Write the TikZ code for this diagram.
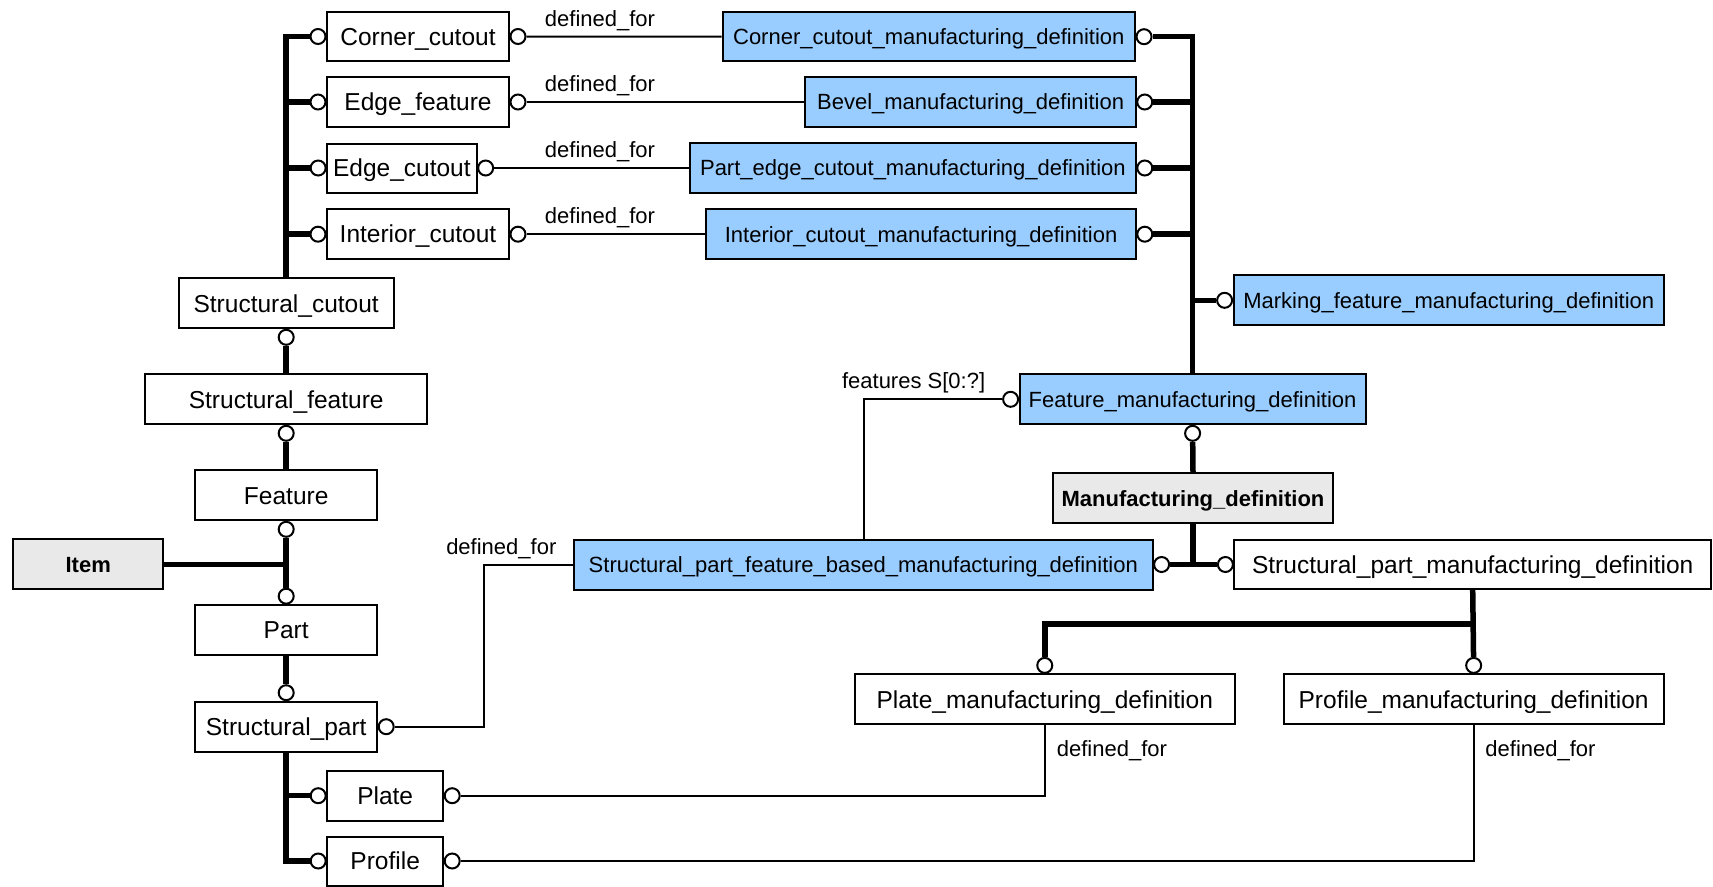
\documentclass[tikz,border=0pt]{standalone}
\usepackage{fontspec}
\setmainfont{Liberation Sans}
\usetikzlibrary{calc}
\definecolor{bluefill}{RGB}{153,204,255}
\definecolor{grayfill}{RGB}{233,233,233}
\tikzset{
  box/.style={draw, line width=2pt, inner sep=0pt, anchor=center, text depth=0pt},
  wbox/.style={box, fill=white, font=\fontsize{24.5}{29}\selectfont, text height=17.5pt},
  bbox/.style={box, fill=bluefill, font=\fontsize{22}{26}\selectfont, text height=15.75pt},
  gbox/.style={box, fill=grayfill, font=\fontsize{22}{26}\selectfont\bfseries, text height=15.75pt},
  ring/.style={draw, circle, fill=white, line width=2pt, minimum size=15pt, inner sep=0pt},
  subline/.style={line width=5.5pt, line join=miter},
  rel/.style={line width=2pt, line join=miter},
  lbl/.style={font=\fontsize{22}{26}\selectfont, inner sep=0pt, text height=15.75pt, text depth=0pt, anchor=center},
}
\begin{document}
\begin{tikzpicture}[x=1pt, y=-1pt]
\useasboundingbox (0,0) rectangle (1713,886);
\fill[white] (0,0) rectangle (1713,886);

% left column boxes
\node[wbox, minimum width=182pt, minimum height=49pt] (cc) at (418,36.5) {Corner\_cutout};
\node[wbox, minimum width=182pt, minimum height=50pt] (ef) at (418,102) {Edge\_feature};
\node[wbox, minimum width=149.5pt, minimum height=49pt] (ec) at (401.9,168) {Edge\_cutout};
\node[wbox, minimum width=182pt, minimum height=50pt] (ic) at (418,234.2) {Interior\_cutout};
\node[wbox, minimum width=215pt, minimum height=50pt] (sc) at (286.2,303.3) {Structural\_cutout};
\node[wbox, minimum width=281.6pt, minimum height=50pt] (sf) at (286.2,399.3) {Structural\_feature};
\node[wbox, minimum width=182pt, minimum height=50pt] (fe) at (286.2,495.3) {Feature};
\node[gbox, minimum width=149.6pt, minimum height=50pt] (item) at (88.2,564.3) {Item};
\node[wbox, minimum width=182pt, minimum height=50pt] (part) at (286.2,630.2) {Part};
\node[wbox, minimum width=182pt, minimum height=50pt] (sp) at (286.2,726.7) {Structural\_part};
\node[wbox, minimum width=116pt, minimum height=50pt] (plate) at (385.2,795.7) {Plate};
\node[wbox, minimum width=116pt, minimum height=49pt] (profile) at (385.2,861) {Profile};

% right boxes
\node[bbox, minimum width=412.5pt, minimum height=48.7pt] (ccmd) at (928.8,36.7) {Corner\_cutout\_manufacturing\_definition};
\node[bbox, minimum width=330.3pt, minimum height=50pt] (bmd) at (970.6,102) {Bevel\_manufacturing\_definition};
\node[bbox, minimum width=445.8pt, minimum height=49.4pt] (pecmd) at (912.9,168) {Part\_edge\_cutout\_manufacturing\_definition};
\node[bbox, minimum width=429.4pt, minimum height=49.7pt] (icmd) at (921.1,234.2) {Interior\_cutout\_manufacturing\_definition};
\node[bbox, minimum width=430.4pt, minimum height=50pt] (mfmd) at (1448.8,300.3) {Marking\_feature\_manufacturing\_definition};
\node[bbox, minimum width=346pt, minimum height=50pt] (fmd) at (1192.6,399.3) {Feature\_manufacturing\_definition};
\node[gbox, minimum width=280pt, minimum height=50pt] (md) at (1193,498.3) {Manufacturing\_definition};
\node[bbox, minimum width=578.6pt, minimum height=50pt] (spfbmd) at (863.3,564.5) {Structural\_part\_feature\_based\_manufacturing\_definition};
\node[wbox, minimum width=476.6pt, minimum height=49.3pt] (spmd) at (1472.7,564.5) {Structural\_part\_manufacturing\_definition};
\node[wbox, minimum width=380.5pt, minimum height=50pt] (pmd) at (1044.75,699.4) {Plate\_manufacturing\_definition};
\node[wbox, minimum width=380pt, minimum height=50pt] (prmd) at (1473.65,699.4) {Profile\_manufacturing\_definition};

% rings
\node[ring] (ccL) at ($(cc.west)+(-8,0)$) {};
\node[ring] (efL) at ($(ef.west)+(-8,0)$) {};
\node[ring] (ecL) at ($(ec.west)+(-8,0)$) {};
\node[ring] (icL) at ($(ic.west)+(-8,0)$) {};
\node[ring] (ccR) at ($(cc.east)+(8,0)$) {};
\node[ring] (efR) at ($(ef.east)+(8,0)$) {};
\node[ring] (ecR) at ($(ec.east)+(8,0)$) {};
\node[ring] (icR) at ($(ic.east)+(8,0)$) {};
\node[ring] (scB) at ($(sc.south)+(0,8)$) {};
\node[ring] (sfB) at ($(sf.south)+(0,8)$) {};
\node[ring] (feB) at ($(fe.south)+(0,8)$) {};
\node[ring] (partT) at ($(part.north)+(0,-8)$) {};
\node[ring] (spT) at ($(sp.north)+(0,-8)$) {};
\node[ring] (spR) at ($(sp.east)+(8,0)$) {};
\node[ring] (plateL) at ($(plate.west)+(-8,0)$) {};
\node[ring] (plateR) at ($(plate.east)+(8,0)$) {};
\node[ring] (profileL) at ($(profile.west)+(-8,0)$) {};
\node[ring] (profileR) at ($(profile.east)+(8,0)$) {};
\node[ring] (ccmdR) at ($(ccmd.east)+(8,0)$) {};
\node[ring] (bmdR) at ($(bmd.east)+(8,0)$) {};
\node[ring] (pecmdR) at ($(pecmd.east)+(8,0)$) {};
\node[ring] (icmdR) at ($(icmd.east)+(8,0)$) {};
\node[ring] (mfmdL) at ($(mfmd.west)+(-8,0)$) {};
\node[ring] (fmdL) at ($(fmd.west)+(-8,0)$) {};
\node[ring] (fmdB) at ($(fmd.south)+(0,8)$) {};
\node[ring] (spfbmdR) at ($(spfbmd.east)+(8,0)$) {};
\node[ring] (spmdL) at ($(spmd.west)+(-8,0)$) {};
\node[ring] (pmdT) at ($(pmd.north)+(0,-8)$) {};
\node[ring] (prmdT) at ($(prmd.north)+(0,-8)$) {};

% helper coordinates
\coordinate (hb) at (0,624);
\coordinate (fx) at (863.8,0);
\coordinate (dx) at (484,0);

% subtype (thick) lines, left
\draw[subline] (ccL) -- (ccL -| sc.north) -- (sc.north);
\draw[subline] (efL) -- (efL -| sc.north);
\draw[subline] (ecL) -- (ecL -| sc.north);
\draw[subline] (icL) -- (icL -| sc.north);
\draw[subline] (scB) -- (sf.north);
\draw[subline] (sfB) -- (fe.north);
\draw[subline] (feB) -- (partT);
\draw[subline] (item.east) -- (item.east -| part.north);
\draw[subline] (part.south) -- (spT);
\draw[subline] (sp.south) -- (sp.south |- profileL) -- (profileL);
\draw[subline] (plateL) -- (plateL -| sp.south);

% subtype (thick) lines, right
\draw[subline] (ccmdR) -- (ccmdR -| fmd.north) -- (fmd.north);
\draw[subline] (bmdR) -- (bmdR -| fmd.north);
\draw[subline] (pecmdR) -- (pecmdR -| fmd.north);
\draw[subline] (icmdR) -- (icmdR -| fmd.north);
\draw[subline] (mfmdL) -- (mfmdL -| fmd.north);
\draw[subline] (fmdB) -- (md.north);
\draw[subline] (md.south) -- (md.south |- spfbmdR);
\draw[subline] (spfbmdR) -- (spmdL);
\draw[subline] (spmd.south) -- (prmdT);
\draw[subline] (pmdT) -- (pmdT |- hb) -- (hb -| spmd.south);

% attribute (thin) lines
\draw[rel] (ccR) -- (ccmd.west);
\draw[rel] (efR) -- (bmd.west);
\draw[rel] (ecR) -- (pecmd.west);
\draw[rel] (icR) -- (icmd.west);
\draw[rel] (spfbmd.north -| fx) -- (fx |- fmdL) -- (fmdL);
\draw[rel] (spR) -- (spR -| dx) -- (dx |- spfbmd.west) -- (spfbmd.west);
\draw[rel] (pmd.south) -- (pmd.south |- plateR) -- (plateR);
\draw[rel] (prmd.south) -- (prmd.south |- profileR) -- (profileR);

% labels
\node[lbl] (l1) at (600,18.5) {defined\_for};
\node[lbl] (l2) at (600,84) {defined\_for};
\node[lbl] (l3) at (600,150) {defined\_for};
\node[lbl] (l4) at (600,216) {defined\_for};
\node[lbl] (l5) at (501.3,546.7) {defined\_for};
\node[lbl] (l6) at (1111.9,748.3) {defined\_for};
\node[lbl] (l7) at (1540.5,748.3) {defined\_for};
\node[lbl] (lf) at (913.6,381) {features S[0:?]};
\end{tikzpicture}
\end{document}
